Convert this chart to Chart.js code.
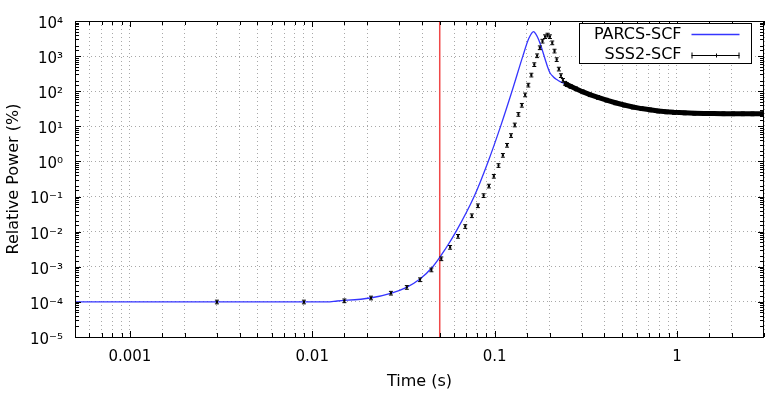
<!DOCTYPE html>
<html>
<head>
<meta charset="utf-8">
<script src="https://cdn.jsdelivr.net/npm/chart.js@4.4.0/dist/chart.umd.min.js"></script>
<style>
html, body { margin: 0; padding: 0; background: #fff; }
</style>
</head>
<body>
<canvas id="chart" width="775" height="393"></canvas>
<script>
// PARCS-SCF (continuous curve)
var parcsTime = [0.0005, 0.012, 0.0137, 0.0208, 0.0272, 0.0329, 0.0388, 0.0458, 0.0536, 0.0614,
	0.0772, 0.0922, 0.1078, 0.1245, 0.1428, 0.1539, 0.1634, 0.168, 0.174, 0.181,
	0.189, 0.195, 0.201, 0.210, 0.219, 0.230, 0.243, 0.27, 0.30, 0.35,
	0.40, 0.45, 0.514, 0.60, 0.687, 0.80, 1.0, 1.2, 1.5, 2.0, 2.5, 3.0];
var parcsPower = [1e-4, 1e-4, 1.06e-4, 1.29e-4, 1.78e-4, 2.6e-4, 4.4e-4, 1e-3, 3.16e-3, 1e-2,
	0.1, 1, 10, 100, 1000, 3162, 5000, 4300, 3000, 1700,
	830, 500, 335, 255, 215, 185, 163, 125, 95, 72,
	56, 47, 39, 33.5, 30, 27, 24.5, 23.6, 23.1, 22.9, 22.8, 22.8];

// SSS2-SCF (points with error bars)
var sssTime = [0.003, 0.009, 0.015, 0.021, 0.027, 0.033, 0.039, 0.045, 0.051, 0.057,
	0.063, 0.069, 0.075, 0.081, 0.087, 0.093, 0.099, 0.105, 0.111, 0.117,
	0.123, 0.129, 0.135, 0.141, 0.147, 0.153, 0.159, 0.165, 0.171, 0.177,
	0.183, 0.189, 0.195, 0.201, 0.207, 0.213, 0.219, 0.225, 0.231, 0.237,
	0.243, 0.249, 0.261, 0.279, 0.303, 0.333, 0.369, 0.411, 0.459, 0.513,
	0.573, 0.639, 0.711, 0.789, 0.873, 0.963, 1.101, 1.245, 1.407, 1.587,
	1.797, 2.031, 2.295, 2.595, 2.937, 2.997];
var sssPower = [1.0e-4, 1.0e-4, 1.08e-4, 1.3e-4, 1.78e-4, 2.6e-4, 4.3e-4, 8.2e-4, 1.7e-3, 3.6e-3,
	7.4e-3, 1.41e-2, 2.86e-2, 5.5e-2, 0.107, 0.20, 0.38, 0.77, 1.5, 2.9,
	5.5, 11, 22, 40, 79, 150, 290, 575, 1030, 1740,
	2680, 3600, 4000, 3600, 2400, 1400, 800, 430, 280, 205,
	170, 155, 138, 118, 97, 80, 67, 56, 47, 40.5,
	35.5, 32, 29.5, 27.5, 26, 25, 24.2, 23.7, 23.3, 23.1,
	23, 22.9, 22.9, 22.8, 22.8, 22.8];
var sssRelErr = 0.12;

// rod ejection marker
var markTime = [0.05, 0.05];
var markPower = [1e-5, 1e4];

function isDecade(v) {
	var e = Math.log10(v);
	return Math.abs(e - Math.round(e)) < 1e-6;
}

var supers = { '-': '\u207B', '0': '\u2070', '1': '\u00B9', '2': '\u00B2', '3': '\u00B3',
	'4': '\u2074', '5': '\u2075', '6': '\u2076', '7': '\u2077', '8': '\u2078', '9': '\u2079' };

function pow10Label(v) {
	var e = String(Math.round(Math.log10(v)));
	return '10' + e.split('').map(function (c) { return supers[c]; }).join('');
}

function toXY(xs, ys) {
	return xs.map(function (x, i) { return { x: x, y: ys[i] }; });
}

var gnuplotBits = {
	id: 'gnuplotBits',
	afterDatasetsDraw: function (chart) {
		var ctx = chart.ctx, a = chart.chartArea, ys = chart.scales.y;
		var meta = chart.getDatasetMeta(0);
		ctx.save();
		ctx.beginPath();
		ctx.rect(a.left, a.top, a.right - a.left, a.bottom - a.top);
		ctx.clip();
		ctx.strokeStyle = '#000';
		ctx.lineWidth = 1;
		meta.data.forEach(function (pt, i) {
			var v = sssPower[i];
			var top = ys.getPixelForValue(v * (1 + sssRelErr));
			var bot = ys.getPixelForValue(v * (1 - sssRelErr));
			ctx.beginPath();
			ctx.moveTo(pt.x, top); ctx.lineTo(pt.x, bot);
			ctx.moveTo(pt.x - 2, top); ctx.lineTo(pt.x + 2, top);
			ctx.moveTo(pt.x - 2, bot); ctx.lineTo(pt.x + 2, bot);
			ctx.stroke();
		});
		ctx.restore();
	},
	afterDraw: function (chart) {
		var ctx = chart.ctx, a = chart.chartArea;
		var xs = chart.scales.x, ys = chart.scales.y;
		ctx.save();
		ctx.strokeStyle = '#000';
		ctx.lineWidth = 1;

		// inward tick marks on all four sides
		ctx.beginPath();
		xs.ticks.forEach(function (t) {
			var px = Math.round(xs.getPixelForValue(t.value)) + 0.5;
			var len = isDecade(t.value) ? 6 : 4;
			ctx.moveTo(px, a.bottom); ctx.lineTo(px, a.bottom - len);
			ctx.moveTo(px, a.top); ctx.lineTo(px, a.top + len);
		});
		ys.ticks.forEach(function (t) {
			var py = Math.round(ys.getPixelForValue(t.value)) + 0.5;
			var len = isDecade(t.value) ? 6 : 4;
			ctx.moveTo(a.left, py); ctx.lineTo(a.left + len, py);
			ctx.moveTo(a.right, py); ctx.lineTo(a.right - len, py);
		});
		ctx.stroke();

		// border
		ctx.strokeRect(Math.round(a.left) + 0.5, Math.round(a.top) + 0.5,
			Math.round(a.right - a.left) - 1, Math.round(a.bottom - a.top));

		// legend box, top right
		var bx = Math.round(a.right) - 184.5, by = Math.round(a.top) + 2.5, bw = 172, bh = 40;
		ctx.fillStyle = '#fff';
		ctx.fillRect(bx, by, bw, bh);
		ctx.strokeRect(bx, by, bw, bh);
		ctx.font = '16px "DejaVu Sans"';
		ctx.fillStyle = '#000';
		ctx.textAlign = 'right';
		ctx.textBaseline = 'middle';
		var tx = bx + 102, sx0 = bx + 112, sx1 = bx + 160;
		var row1 = by + 11, row2 = by + 31;
		var parcs = chart.data.datasets[1], sss = chart.data.datasets[0];
		ctx.fillText(parcs.label, tx, row1);
		ctx.fillText(sss.label, tx, row2);
		ctx.strokeStyle = parcs.borderColor;
		ctx.lineWidth = 1.3;
		ctx.beginPath(); ctx.moveTo(sx0, row1); ctx.lineTo(sx1, row1); ctx.stroke();
		ctx.strokeStyle = '#000';
		ctx.lineWidth = 1;
		var r2 = Math.round(row2) + 0.5;
		ctx.beginPath();
		ctx.moveTo(sx0, r2); ctx.lineTo(sx1, r2);
		ctx.moveTo(sx0 + 0.5, r2 - 3); ctx.lineTo(sx0 + 0.5, r2 + 3);
		ctx.moveTo(sx1 - 0.5, r2 - 3); ctx.lineTo(sx1 - 0.5, r2 + 3);
		var mid = Math.round((sx0 + sx1) / 2) + 0.5;
		ctx.moveTo(mid, r2 - 2); ctx.lineTo(mid, r2 + 2);
		ctx.stroke();
		ctx.restore();
	}
};

var tickFont = { family: 'DejaVu Sans', size: 15 };
var titleFont = { family: 'DejaVu Sans', size: 16 };

new Chart(document.getElementById('chart'), {
	type: 'line',
	data: {
		datasets: [
			{
				label: 'SSS2-SCF',
				data: toXY(sssTime, sssPower),
				borderColor: '#000',
				backgroundColor: '#000',
				borderWidth: 5,
				pointRadius: 1.5,
				pointStyle: 'rect',
				pointBorderWidth: 0,
				segment: {
					borderColor: function (c) {
						return sssTime[c.p0DataIndex] >= 0.243 ? '#000' : 'rgba(0,0,0,0)';
					}
				}
			},
			{
				label: 'PARCS-SCF',
				data: toXY(parcsTime, parcsPower),
				borderColor: '#3535ff',
				borderWidth: 1.3,
				pointRadius: 0,
				cubicInterpolationMode: 'monotone'
			},
			{
				label: 'marker',
				data: toXY(markTime, markPower),
				borderColor: '#f04848',
				borderWidth: 1.5,
				pointRadius: 0
			}
		]
	},
	options: {
		responsive: false,
		animation: false,
		devicePixelRatio: 1,
		layout: { padding: { top: 12, right: 2, left: 0, bottom: 0 } },
		plugins: {
			legend: { display: false },
			tooltip: { enabled: false }
		},
		scales: {
			x: {
				type: 'logarithmic',
				min: 0.0005,
				max: 3,
				afterFit: function (s) { s.height = 56; },
				grid: { color: '#a8a8a8', lineWidth: 1, drawTicks: false },
				border: { display: false, dash: [1, 3] },
				ticks: {
					autoSkip: false,
					maxRotation: 0,
					minRotation: 0,
					padding: 11,
					color: '#000',
					font: tickFont,
					callback: function (v) {
						return isDecade(v) ? String(Number(v.toPrecision(1))) : '';
					}
				},
				title: { display: true, text: 'Time (s)', color: '#000', font: titleFont, padding: { top: 0, bottom: 2 } }
			},
			y: {
				type: 'logarithmic',
				min: 1e-5,
				max: 1e4,
				afterFit: function (s) { s.width = 75; },
				grid: {
					lineWidth: 1,
					drawTicks: false,
					color: function (c) {
						return c.tick && isDecade(c.tick.value) ? '#a8a8a8' : 'rgba(0,0,0,0)';
					}
				},
				border: { display: false, dash: [1, 3] },
				ticks: {
					autoSkip: false,
					padding: 12,
					labelOffset: 3,
					color: '#000',
					font: tickFont,
					callback: function (v) {
						return isDecade(v) ? pow10Label(v) : '';
					}
				},
				title: { display: true, text: 'Relative Power (%)', color: '#000', font: titleFont, padding: { top: 4, bottom: 0 } }
			}
		}
	},
	plugins: [gnuplotBits]
});
</script>
</body>
</html>
